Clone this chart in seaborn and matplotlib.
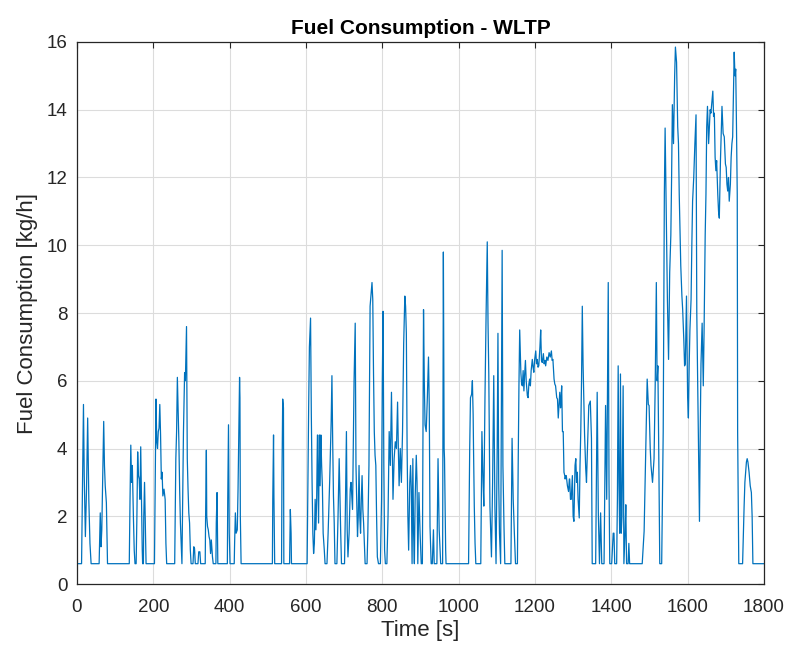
import matplotlib
matplotlib.use("Agg")
import matplotlib.pyplot as plt
import numpy as np
import pandas as pd
import seaborn as sns

# WLTP fuel consumption trace, split by cycle phase: time [s] and fuel flow [kg/h]
low_t = [0, 12, 14, 17, 19, 22, 25, 28, 31, 34, 37,
         58, 61, 63, 65, 68, 70, 72, 74, 77, 80,
         137, 139, 141, 143, 145, 148, 150, 152, 155, 157, 159, 161, 163, 165, 167, 169, 171, 172, 174, 175, 177, 179, 181,
         203, 205, 207, 209, 211, 213, 215, 217, 219, 221, 223, 225, 228, 231, 233, 235,
         256, 259, 261, 263, 265, 267, 269, 271, 273, 275, 277, 279, 282, 284, 287, 288, 289, 291, 293, 295, 297, 299,
         304, 306, 308, 310, 317, 319, 322, 324,
         336, 337, 339, 340, 342, 344, 346, 348, 350, 352, 355, 357, 364, 365, 367, 369,
         394, 395, 397, 399, 401, 412, 413, 415, 417, 420, 422, 424, 426, 427, 428, 430,
         512, 513, 515, 516, 518, 536, 537, 539, 541, 542, 557, 559, 561, 562, 589]
low_fc = [0.6, 0.6, 2.5, 5.3, 3.2, 1.4, 2.8, 4.9, 2.5, 1.2, 0.6,
          0.6, 2.1, 1.1, 1.6, 3.5, 4.8, 3.5, 2.9, 2.4, 0.6,
          0.6, 2.5, 4.1, 3.0, 3.5, 1.9, 1.0, 0.6, 0.6, 2.0, 3.9, 3.2, 3.1, 2.5, 4.05, 2.5, 1.0, 0.6, 0.6, 2.0, 3.0, 1.8, 0.6,
          0.6, 3.0, 5.46, 4.2, 4.0, 4.5, 4.6, 5.3, 4.4, 3.1, 3.3, 2.6, 2.8, 2.5, 1.2, 0.6,
          0.6, 3.7, 4.5, 6.1, 5.2, 4.2, 2.8, 1.8, 1.2, 0.6, 2.5, 4.5, 6.24, 6.0, 7.6, 5.5, 3.7, 2.8, 2.1, 1.8, 1.0, 0.6,
          0.6, 1.1, 1.05, 0.6, 0.6, 0.95, 0.95, 0.6,
          0.6, 2.0, 3.95, 2.0, 1.7, 1.6, 1.4, 1.3, 0.9, 1.3, 0.8, 0.6, 0.6, 1.8, 2.7, 0.6,
          0.6, 2.5, 4.7, 1.5, 0.6, 0.6, 1.2, 2.1, 1.5, 1.6, 2.8, 4.5, 6.1, 5.5, 2.0, 0.6,
          0.6, 2.5, 4.4, 2.6, 0.6, 0.6, 3.0, 5.46, 5.2, 0.6, 0.6, 2.2, 1.5, 0.6, 0.6]

mid_t = [590, 603, 605, 607, 609, 612, 614, 616, 618, 620, 622, 624, 626, 628, 630, 633, 635, 637, 639, 641, 643, 645, 648, 650,
         655, 658, 662, 666, 668, 670, 672, 674, 676, 681, 684, 687, 689, 691, 693,
         701, 703, 706, 708, 710, 713, 716, 718, 722, 726, 729, 731, 733, 735, 737, 739, 741, 743, 745, 747, 749, 751, 753, 755,
         760, 762, 765, 768, 771, 773, 775, 777, 779, 781, 783, 785, 787, 790,
         795, 798, 800, 802, 804, 806, 808, 812, 815, 818, 821, 824, 826, 828, 831, 834, 837, 840, 842, 844, 847, 850, 853,
         856, 859, 861, 863, 865, 867, 869, 872, 874, 876, 878, 880, 882, 884, 886, 889, 891, 893, 896, 899, 902,
         905, 906, 908, 910, 912, 915, 918, 921, 923, 925, 928, 931, 934, 936, 943, 946, 949, 953,
         958, 960, 962, 963, 966, 967, 1022]
mid_fc = [0.6, 0.6, 3.0, 5.2, 7.0, 7.85, 5.0, 3.0, 1.5, 0.9, 1.2, 2.5, 1.6, 2.5, 4.4, 1.8, 4.4, 2.9, 4.4, 3.5, 2.9, 1.5, 1.0, 0.6,
          0.6, 1.5, 3.0, 4.8, 6.15, 4.2, 2.6, 1.8, 0.6, 0.6, 2.0, 3.7, 2.6, 1.5, 0.6,
          0.6, 2.0, 4.5, 1.6, 0.8, 1.5, 2.8, 3.0, 2.2, 6.0, 7.7, 3.5, 2.5, 1.4, 2.0, 3.5, 2.0, 1.5, 2.5, 3.2, 2.2, 1.8, 1.2, 0.6,
          0.6, 1.5, 3.5, 8.2, 8.6, 8.9, 8.4, 6.2, 4.5, 3.8, 3.5, 2.0, 0.8, 0.6,
          0.6, 2.5, 6.0, 8.05, 3.5, 1.0, 0.6, 0.6, 2.0, 4.5, 3.5, 5.66, 4.0, 2.5, 3.7, 4.2, 4.0, 5.37, 4.0, 2.9, 4.0, 3.0, 4.5,
          7.1, 8.5, 8.2, 7.4, 4.0, 2.0, 1.0, 3.0, 3.5, 2.8, 0.6, 3.7, 1.5, 0.6, 2.5, 3.8, 3.0, 0.6, 2.7, 1.5, 0.6,
          0.6, 3.0, 8.1, 6.0, 4.7, 4.5, 5.5, 6.7, 5.3, 1.7, 0.6, 0.6, 1.6, 0.6, 0.6, 3.7, 1.6, 0.6,
          0.6, 9.8, 4.0, 3.7, 1.0, 0.6, 0.6]

high_t = [1026, 1029, 1031, 1034, 1036, 1038, 1039, 1041, 1043, 1045,
          1058, 1061, 1064, 1066, 1069, 1072, 1075, 1077, 1079, 1082, 1086, 1089, 1092, 1095, 1098,
          1101, 1103, 1105, 1107, 1110, 1112, 1114, 1116, 1119, 1121, 1137, 1140, 1143, 1146, 1149,
          1154, 1156, 1158, 1160, 1163, 1165, 1167, 1169, 1171, 1173, 1175, 1177, 1180, 1182, 1184, 1186, 1188, 1190, 1193, 1195,
          1197, 1199, 1202, 1204, 1206, 1208, 1210, 1213, 1215, 1217, 1219, 1222, 1224, 1226, 1228, 1231, 1234, 1237, 1240, 1243,
          1245, 1247, 1250, 1252, 1254, 1257, 1259, 1261, 1263, 1265, 1267, 1268, 1270, 1272, 1274, 1276, 1278, 1279, 1281, 1282,
          1285, 1288, 1290, 1291, 1293, 1295, 1297, 1298, 1300, 1302, 1305, 1307, 1309, 1311, 1313, 1316, 1318, 1320, 1322, 1324,
          1326, 1328, 1330, 1333, 1335, 1337, 1341, 1345, 1348, 1350, 1359, 1361, 1363, 1366, 1369, 1372, 1375,
          1381, 1385, 1388, 1392, 1394, 1396, 1401, 1405, 1407, 1409, 1414, 1416, 1418, 1420, 1422, 1424, 1426, 1428, 1431,
          1433, 1436, 1438, 1440, 1444, 1446, 1448, 1477]
high_fc = [0.6, 4.0, 5.5, 5.6, 6.0, 5.0, 4.0, 2.3, 1.2, 0.6,
           0.6, 4.5, 3.0, 2.3, 5.5, 8.0, 10.1, 7.7, 6.2, 2.3, 0.8, 3.0, 6.15, 2.3, 0.6,
           4.0, 7.4, 3.0, 1.5, 0.6, 5.0, 9.85, 3.5, 1.6, 0.6, 0.6, 4.3, 2.5, 1.5, 0.6,
           0.6, 3.5, 5.85, 7.5, 6.25, 5.9, 5.85, 6.3, 5.7, 6.2, 6.6, 6.0, 5.56, 5.5, 5.9, 6.05, 5.85, 6.3, 6.63, 6.4,
           6.25, 6.6, 6.88, 6.5, 6.63, 6.4, 6.44, 7.0, 7.5, 6.6, 6.54, 6.8, 6.5, 6.6, 6.44, 6.7, 6.6, 6.83, 6.7, 6.88,
           6.6, 6.63, 6.05, 5.9, 5.85, 5.5, 5.46, 4.9, 5.3, 5.66, 5.2, 5.37, 5.85, 4.5, 4.5, 3.3, 3.2, 3.1, 3.2, 3.2,
           2.9, 2.73, 3.1, 3.1, 2.5, 2.5, 3.0, 3.2, 2.0, 1.85, 3.5, 3.7, 3.0, 3.3, 2.5, 1.95, 3.5, 4.5, 6.0, 8.2,
           6.5, 5.5, 4.4, 3.4, 3.0, 3.8, 5.27, 5.4, 4.3, 0.6, 0.6, 3.0, 5.66, 2.1, 0.6, 2.1, 0.6,
           0.6, 5.27, 2.5, 8.9, 3.0, 0.6, 0.6, 1.5, 1.5, 0.6, 0.6, 2.5, 6.44, 3.0, 1.5, 6.2, 1.5, 2.0, 5.85,
           0.6, 1.5, 2.34, 0.6, 0.6, 1.2, 0.6, 0.6]

xhigh_t = [1481, 1484, 1486, 1489, 1492, 1494, 1497, 1499, 1502, 1504, 1508, 1511, 1512, 1515, 1518, 1520, 1522, 1524, 1527,
           1532, 1534, 1536, 1539, 1541, 1544, 1547, 1550, 1553, 1556, 1558, 1560, 1563, 1566, 1568, 1571, 1574, 1576, 1578,
           1580, 1582, 1585, 1587, 1590, 1592, 1594, 1597, 1600, 1602, 1604, 1606, 1609, 1611, 1613, 1616, 1619, 1622, 1624,
           1627, 1631, 1633, 1635, 1638, 1641, 1643, 1646, 1648, 1650, 1652, 1655, 1657, 1659, 1661, 1664, 1666, 1668, 1670,
           1672, 1674, 1676, 1679, 1681, 1683, 1686, 1690, 1693, 1696, 1699, 1701, 1703, 1705, 1707, 1709, 1712, 1714, 1716,
           1718, 1720, 1722, 1724, 1726, 1728, 1730, 1731, 1734, 1744, 1746, 1748, 1750, 1752, 1754, 1756, 1758, 1761, 1764,
           1767, 1769, 1771, 1800]
xhigh_fc = [0.6, 1.2, 1.56, 3.3, 5.0, 6.05, 5.3, 5.27, 4.0, 3.5, 3.0, 3.5, 3.7, 5.85, 8.9, 6.0, 6.44, 4.3, 0.6,
            0.6, 2.5, 4.5, 11.5, 13.46, 11.0, 8.4, 6.63, 9.2, 10.3, 12.0, 14.15, 13.0, 15.0, 15.85, 15.4, 13.5, 13.0, 11.5,
            10.5, 9.4, 8.5, 8.1, 7.2, 6.44, 6.5, 8.5, 5.5, 4.9, 6.44, 7.5, 8.4, 10.0, 11.3, 12.0, 13.0, 13.85, 8.0,
            5.46, 1.85, 4.5, 6.5, 7.7, 5.85, 7.4, 10.3, 11.5, 13.5, 14.1, 13.0, 13.5, 14.0, 13.9, 14.3, 14.55, 13.8, 13.9,
            12.6, 12.2, 12.5, 11.5, 11.0, 10.8, 12.5, 14.1, 13.3, 13.2, 12.4, 12.3, 11.8, 11.6, 12.0, 11.3, 11.8, 12.6, 13.0,
            13.2, 14.5, 15.7, 15.0, 15.2, 13.5, 11.5, 4.5, 0.6, 0.6, 1.5, 2.3, 3.0, 3.3, 3.6, 3.7, 3.6, 3.3, 2.9,
            2.7, 2.0, 0.6, 0.6]

df = pd.DataFrame({
    "Time [s]": low_t + mid_t + high_t + xhigh_t,
    "Fuel Consumption [kg/h]": low_fc + mid_fc + high_fc + xhigh_fc,
})

sns.set_style("whitegrid")
plt.rcParams["font.family"] = ["Liberation Sans", "DejaVu Sans"]

fig = plt.figure(figsize=(7.92, 6.51), dpi=100)
ax = fig.add_axes([0.0972, 0.1029, 0.8674, 0.8326])

sns.lineplot(data=df, x="Time [s]", y="Fuel Consumption [kg/h]", ax=ax,
             estimator=None, sort=True, color="#0072BD", linewidth=0.9)

ax.set_xlim(0, 1800)
ax.set_ylim(0, 16)
ax.set_xticks(np.arange(0, 1801, 200))
ax.set_yticks(np.arange(0, 17, 2))

ax.set_facecolor("white")
ax.grid(True, color="#dcdcdc", linewidth=0.8)
for side in ["left", "right", "top", "bottom"]:
    ax.spines[side].set_visible(True)
    ax.spines[side].set_color("#262626")
    ax.spines[side].set_linewidth(0.9)

ax.tick_params(axis="both", direction="in", length=4, width=0.8, color="#262626",
               top=True, right=True, labelsize=13.5, labelcolor="#262626")
ax.tick_params(axis="x", pad=11)
ax.tick_params(axis="y", pad=7)

ax.set_title("Fuel Consumption - WLTP", fontsize=15, fontweight="bold", color="black", pad=6)
ax.set_xlabel("Time [s]", fontsize=16, color="#262626", labelpad=3)
ax.set_ylabel("Fuel Consumption [kg/h]", fontsize=16, color="#262626", labelpad=6)

fig.savefig("out.png", dpi=100)
